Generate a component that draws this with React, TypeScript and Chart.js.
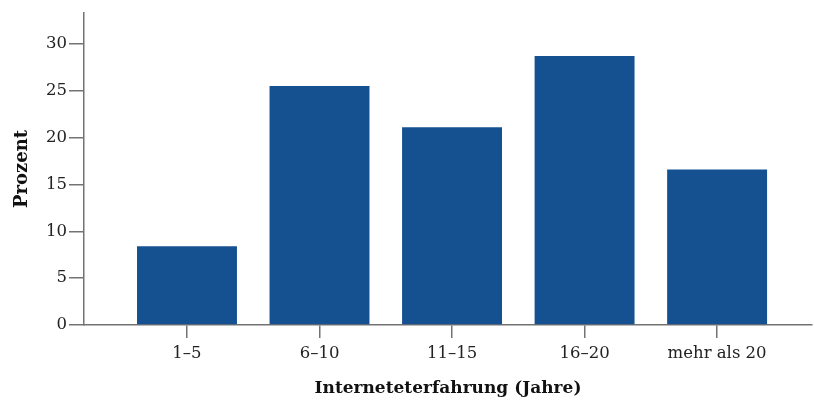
import React, { useEffect, useRef } from "react";
import { Chart, registerables } from "chart.js";

Chart.register(...registerables);

const categories = ["1–5", "6–10", "11–15", "16–20", "mehr als 20"];
const percentValues = [8.4, 25.5, 21.1, 28.7, 16.6];
const yTickValues = [0, 5, 10, 15, 20, 25, 30];
const yAxisTitle = "Prozent";
const xAxisTitle = "Interneteterfahrung (Jahre)";

const FONT = "'DejaVu Serif', serif";
const AXIS = "#737373";
const BAR = "#155090";

export default function App() {
  const ref = useRef<HTMLCanvasElement>(null);
  useEffect(() => {
    document.body.style.margin = "0";
    const ctx = ref.current!;
    const chart = new Chart(ctx, {
      type: "bar",
      data: {
        datasets: [
          {
            data: percentValues.map((v, i) => ({ x: i, y: v })),
            backgroundColor: BAR,
            borderWidth: 0,
            barPercentage: 0.754,
            categoryPercentage: 1,
          },
        ],
      },
      options: {
        animation: false,
        responsive: false,
        maintainAspectRatio: false,
        layout: { padding: { top: 13, right: 2, left: 0, bottom: 0 } },
        plugins: { legend: { display: false }, tooltip: { enabled: false } },
        scales: {
          x: {
            type: "linear",
            min: -0.777,
            max: 4.716,
            offset: false,
            afterBuildTicks: (s: any) => {
              s.ticks = categories.map((_, i) => ({ value: i }));
            },
            afterFit: (s: any) => {
              s.height = 78;
            },
            ticks: {
              autoSkip: false,
              maxRotation: 0,
              padding: 6,
              color: "#222",
              font: { family: FONT, size: 16.5 },
              callback: (v: any) => categories[v as number] ?? "",
            },
            grid: {
              offset: false,
              drawOnChartArea: false,
              drawTicks: true,
              tickLength: 13,
              color: AXIS,
              lineWidth: 1.5,
            },
            border: { display: true, color: AXIS, width: 1.5 },
            title: {
              display: true,
              text: xAxisTitle,
              color: "#111",
              font: { family: FONT, size: 17, weight: "bold" },
              padding: { top: 0, bottom: 4 },
            },
          },
          y: {
            type: "linear",
            min: 0,
            max: 33.3,
            afterBuildTicks: (s: any) => {
              s.ticks = yTickValues.map((v) => ({ value: v }));
            },
            afterFit: (s: any) => {
              s.width = 84;
            },
            ticks: {
              padding: 2,
              color: "#222",
              font: { family: FONT, size: 16.5 },
            },
            grid: {
              drawOnChartArea: false,
              drawTicks: true,
              tickLength: 15,
              color: AXIS,
              lineWidth: 1.5,
            },
            border: { display: true, color: AXIS, width: 1.5 },
            title: {
              display: true,
              text: yAxisTitle,
              color: "#111",
              font: { family: FONT, size: 18, weight: "bold" },
              padding: { top: 12, bottom: 0 },
            },
          },
        },
      },
    } as any);
    return () => chart.destroy();
  }, []);
  return (
    <div style={{ width: 814, height: 403 }}>
      <canvas ref={ref} width={814} height={403} style={{ display: "block" }} />
    </div>
  );
}
